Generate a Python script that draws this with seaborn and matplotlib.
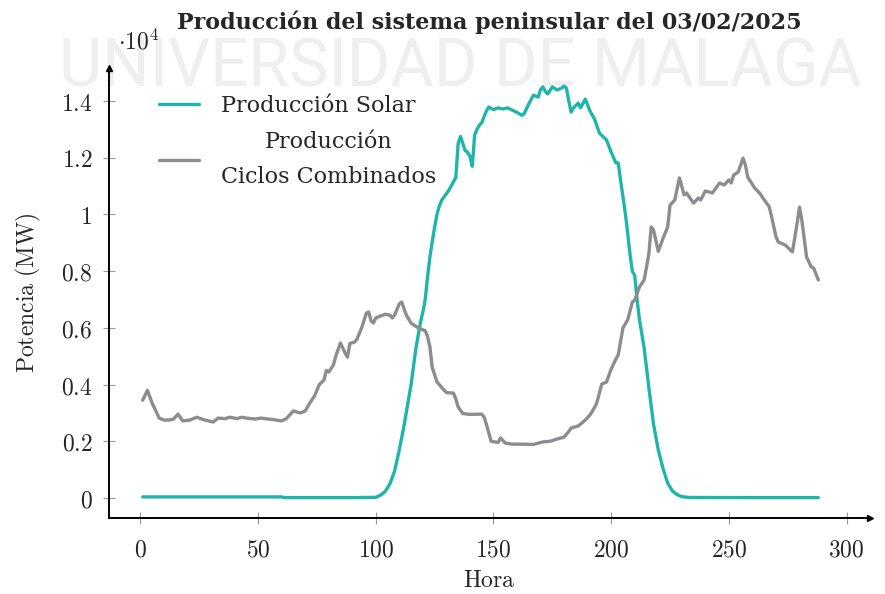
import numpy as np
import pandas as pd
import matplotlib
matplotlib.use("Agg")
import matplotlib.pyplot as plt
from matplotlib import font_manager
import seaborn as sns

# Producción solar (MW) por intervalo de 5 minutos
hora_solar = [1, 30, 60, 61, 90, 100, 102, 104, 106, 108, 110, 112, 115, 117, 119, 120,
              121, 122, 123, 124, 125, 126, 127, 128, 129, 131, 133, 134, 135, 136, 137,
              138, 139, 140, 141, 142, 143, 144, 145, 146, 147, 148, 150, 152, 154, 156,
              158, 160, 162, 163, 165, 167, 169, 170, 171, 172, 173, 175, 177, 179, 180,
              181, 182, 183, 184, 186, 187, 189, 191, 193, 195, 198, 200, 202, 203, 204,
              206, 207, 208, 209, 210, 211, 212, 214, 216, 218, 220, 222, 224, 226, 228,
              230, 233, 260, 288]
mw_solar = [40, 40, 40, 15, 15, 25, 100, 230, 500, 950, 1700, 2550, 4000, 5250, 6200, 6550,
            7000, 7800, 8500, 9050, 9550, 10000, 10300, 10500, 10620, 10850, 11150, 11300,
            12500, 12750, 12500, 12250, 12200, 12050, 11700, 12800, 13000, 13150, 13230,
            13450, 13650, 13790, 13700, 13760, 13720, 13760, 13680, 13600, 13500, 13550,
            13900, 14210, 14140, 14400, 14500, 14350, 14250, 14500, 14390, 14460, 14530,
            14450, 14000, 13610, 13760, 13930, 13760, 14070, 13650, 13350, 12870, 12630,
            12200, 11820, 11820, 11200, 10050, 9350, 8600, 8000, 7850, 7000, 6300, 5300,
            3900, 2600, 1700, 1050, 530, 250, 120, 50, 20, 15, 15]

# Producción ciclos combinados (MW)
hora_cc = [1, 3, 5, 7, 8, 10, 12, 14, 16, 18, 21, 24, 27, 29, 31, 33, 36, 38, 41, 43, 45,
           47, 49, 51, 54, 57, 60, 62, 65, 68, 70, 72, 74, 76, 78, 79, 80, 82, 83, 85, 87,
           88, 89, 91, 92, 94, 96, 97, 98, 99, 100, 102, 104, 106, 107, 108, 110, 111, 113,
           115, 118, 121, 122, 123, 124, 126, 128, 130, 133, 134, 135, 137, 140, 145, 146,
           147, 149, 152, 153, 155, 158, 162, 167, 171, 174, 177, 180, 182, 183, 186, 189,
           191, 193, 194, 196, 198, 200, 202, 203, 205, 207, 209, 210, 212, 214, 216, 217,
           218, 220, 222, 223, 224, 225, 227, 229, 231, 232, 235, 237, 238, 240, 243, 246,
           248, 250, 251, 252, 254, 256, 257, 258, 261, 263, 266, 267, 268, 270, 271, 274,
           277, 279, 280, 281, 283, 285, 286, 288]
mw_cc = [3450, 3800, 3350, 3000, 2820, 2750, 2750, 2780, 2960, 2720, 2750, 2850, 2760, 2720,
         2680, 2820, 2800, 2850, 2800, 2850, 2820, 2800, 2790, 2820, 2790, 2760, 2720, 2800,
         3070, 3000, 3070, 3350, 3600, 4000, 4160, 4500, 4440, 4690, 5000, 5470, 5110, 4970,
         5450, 5500, 5600, 6000, 6520, 6560, 6250, 6170, 6350, 6420, 6480, 6450, 6350, 6450,
         6850, 6910, 6450, 6170, 6000, 5900, 5700, 5330, 4600, 4100, 3900, 3720, 3700, 3500,
         3210, 2980, 2950, 2960, 2860, 2600, 2000, 1960, 2120, 1940, 1900, 1900, 1890, 1980,
         2000, 2080, 2150, 2350, 2470, 2540, 2750, 2930, 3200, 3390, 4020, 4090, 4550, 4900,
         5050, 6000, 6280, 6910, 6980, 7440, 7690, 8600, 9560, 9450, 8700, 9150, 9350, 9560,
         10330, 10510, 11290, 10690, 10760, 10400, 10580, 10510, 10830, 10760, 11110, 11040,
         11220, 11110, 11390, 11500, 11990, 11750, 11320, 10930, 10760, 10400, 10300, 9980,
         9210, 9030, 8920, 8680, 9700, 10260, 9800, 8500, 8150, 8110, 7690]

xticks = [0, 50, 100, 150, 200, 250, 300]
yticks = [0, 2000, 4000, 6000, 8000, 10000, 12000, 14000]
ytick_labels = ["0", "0.2", "0.4", "0.6", "0.8", "1", "1.2", "1.4"]

sns.set_theme(style="white")
plt.rcParams["mathtext.fontset"] = "cm"

teal = "#20b5ab"
gris = "#8d8d91"

nombres = {f.name for f in font_manager.fontManager.ttflist}
marca_font = "Liberation Sans Narrow" if "Liberation Sans Narrow" in nombres else "Roboto"

df_solar = pd.DataFrame({"hora": hora_solar, "mw": mw_solar})
df_cc = pd.DataFrame({"hora": hora_cc, "mw": mw_cc})

fig = plt.figure(figsize=(8.85, 5.94), dpi=100)
ax = fig.add_axes([0.1232, 0.1279, 0.860, 0.7576])
ax.patch.set_visible(False)

fig.text(0.52, 0.885, "UNIVERSIDAD DE MALAGA", ha="center", va="center",
         fontsize=57 if marca_font != "Roboto" else 48, color="#efefef",
         family=marca_font, zorder=-5)

sns.lineplot(data=df_solar, x="hora", y="mw", ax=ax, color=teal, lw=2.4,
             label="Producción Solar")
sns.lineplot(data=df_cc, x="hora", y="mw", ax=ax, color=gris, lw=2.4,
             label="Producción\nCiclos Combinados")

ax.set_xlim(-13.3, 310)
ax.set_ylim(-705, 15166)
ax.set_xticks(xticks)
ax.set_xticklabels([f"${t}$" for t in xticks], fontsize=17)
ax.set_yticks(yticks)
ax.set_yticklabels([f"${t}$" for t in ytick_labels], fontsize=17)
ax.tick_params(direction="inout", length=8, width=0.8, color="#999999",
               left=True, bottom=True)
ax.tick_params(axis="x", pad=10)
ax.tick_params(axis="y", pad=8)

for s in ["top", "right"]:
    ax.spines[s].set_visible(False)
for s in ["left", "bottom"]:
    ax.spines[s].set_color("black")
    ax.spines[s].set_linewidth(1.4)
ax.plot(1, 0, ">", color="black", ms=5, transform=ax.transAxes, clip_on=False)
ax.plot(0, 1, "^", color="black", ms=5, transform=ax.transAxes, clip_on=False)

ax.set_xlabel(r"$\mathrm{Hora}$", fontsize=17, labelpad=5)
ax.set_ylabel(r"$\mathrm{Potencia\ (MW)}$", fontsize=17, labelpad=13)
ax.text(0.012, 1.058, r"$\cdot 10^{4}$", transform=ax.transAxes, fontsize=17,
        va="center", ha="left")

fig.text(0.553, 0.963, "Producción del sistema peninsular del 03/02/2025",
         ha="center", va="center", fontsize=16, fontweight="bold",
         family="DejaVu Serif")

leg = ax.legend(loc="upper left", bbox_to_anchor=(0.04, 0.984), frameon=False,
                prop={"family": "DejaVu Serif", "size": 16}, handlelength=1.8,
                handletextpad=0.95, labelspacing=0.6)
for t in leg.get_texts():
    t.set_multialignment("center")
    t.set_linespacing(1.8)

fig.savefig("out.png", dpi=100)
